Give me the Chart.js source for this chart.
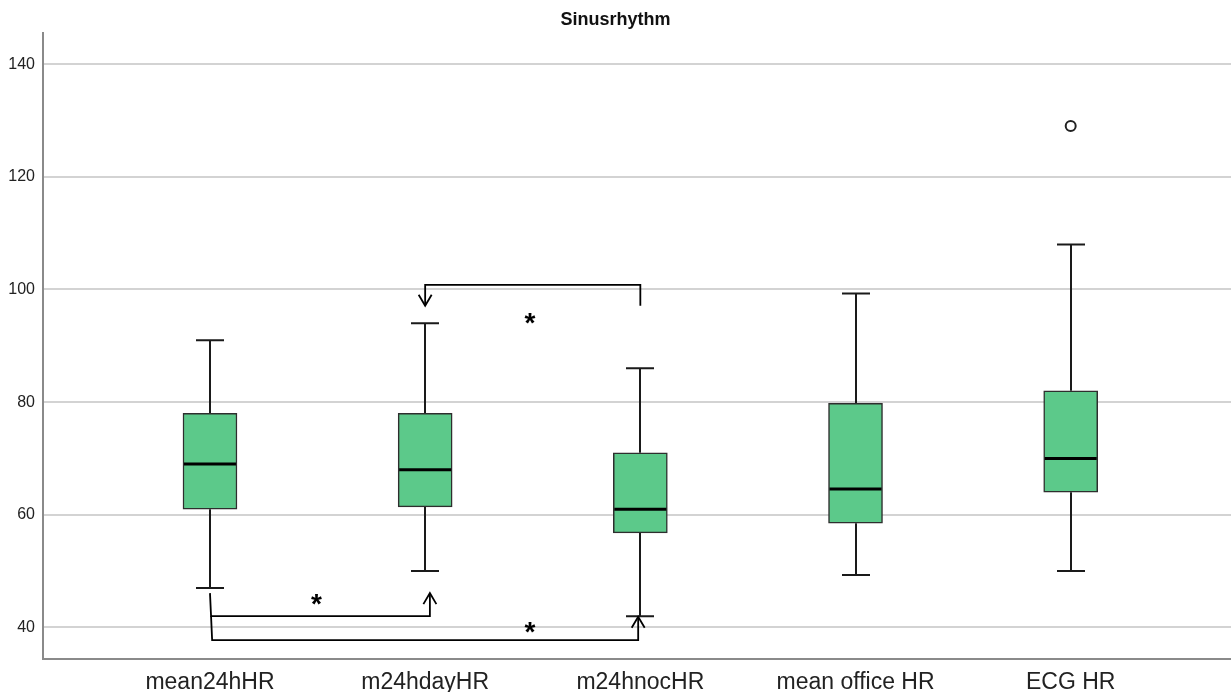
<!DOCTYPE html>
<html>
<head>
<meta charset="utf-8">
<title>Sinusrhythm</title>
<script src="https://cdn.jsdelivr.net/npm/chart.js@4.4.1/dist/chart.umd.min.js"></script>
<style>
  html, body { margin: 0; padding: 0; background: #ffffff; overflow: hidden; }
  canvas { display: block; }
</style>
</head>
<body>
<canvas id="chart" width="1231" height="692"></canvas>
<script>
// Heart-rate summary per measurement method (beats per minute)
const categories = ['mean24hHR', 'm24hdayHR', 'm24hnocHR', 'mean office HR', 'ECG HR'];
const whiskerLow  = [47, 50, 42, 49.3, 50];
const quartile1   = [61, 61.4, 56.8, 58.5, 64];
const medians     = [69, 68, 61, 64.6, 70];
const quartile3   = [78, 78, 71, 79.8, 82];
const whiskerHigh = [91, 94, 86, 99.3, 108];
const outlierCategory = [4];
const outlierValue    = [129];
const yTicks = [40, 60, 80, 100, 120, 140];

// Significance markers between groups: bracket path (category index, value) and star anchor
const brackets = [
  { path: [[0, 46.1], [0.005, 42.0], [1.022, 42.0], [1.022, 46.1]], arrow: 'up',   star: [0.495, 45.0] },
  { path: [[0.005, 42.0], [0.01, 37.75], [1.99, 37.75], [1.99, 41.9]], arrow: 'up', star: [1.487, 40.0] },
  { path: [[2, 97.1], [2, 100.8], [1.0, 100.8], [1.0, 97.1]], arrow: 'down',       star: [1.487, 94.8] }
];

const INK = '#1a1a1a';

const boxPlotPlugin = {
  id: 'boxWhiskers',
  beforeDatasetsDraw(chart) {
    const { ctx, scales: { x, y } } = chart;
    ctx.save();
    ctx.strokeStyle = INK;
    ctx.lineWidth = 2;
    ctx.lineCap = 'butt';
    categories.forEach((_, i) => {
      const cx = Math.round(x.getPixelForValue(i));
      const lo = y.getPixelForValue(whiskerLow[i]);
      const hi = y.getPixelForValue(whiskerHigh[i]);
      const b1 = y.getPixelForValue(quartile1[i]);
      const b3 = y.getPixelForValue(quartile3[i]);
      ctx.beginPath();
      ctx.moveTo(cx, b3); ctx.lineTo(cx, hi);
      ctx.moveTo(cx, b1); ctx.lineTo(cx, lo);
      ctx.moveTo(cx - 14, hi); ctx.lineTo(cx + 14, hi);
      ctx.moveTo(cx - 14, lo); ctx.lineTo(cx + 14, lo);
      ctx.stroke();
    });
    ctx.restore();
  },
  afterDatasetsDraw(chart) {
    const { ctx, scales: { x, y } } = chart;
    ctx.save();
    // medians
    ctx.strokeStyle = '#000';
    ctx.lineWidth = 3;
    categories.forEach((_, i) => {
      const cx = x.getPixelForValue(i);
      const m = y.getPixelForValue(medians[i]);
      ctx.beginPath();
      ctx.moveTo(cx - 26, m); ctx.lineTo(cx + 26, m);
      ctx.stroke();
    });

    // significance brackets with open arrow heads
    ctx.strokeStyle = '#000';
    ctx.lineWidth = 1.8;
    ctx.lineJoin = 'miter';
    brackets.forEach(b => {
      const pts = b.path.map(([cv, vv]) => [x.getPixelForValue(cv), y.getPixelForValue(vv)]);
      ctx.beginPath();
      pts.forEach(([px, py], k) => (k ? ctx.lineTo(px, py) : ctx.moveTo(px, py)));
      ctx.stroke();
      const [tx, ty] = pts[pts.length - 1];
      const dir = b.arrow === 'up' ? 1 : -1;
      ctx.beginPath();
      ctx.moveTo(tx - 6.5, ty + dir * 11);
      ctx.lineTo(tx, ty);
      ctx.lineTo(tx + 6.5, ty + dir * 11);
      ctx.stroke();

      // star label centred on its anchor
      const sx = x.getPixelForValue(b.star[0]);
      const sy = y.getPixelForValue(b.star[1]);
      ctx.font = 'bold 28px "Liberation Sans", Arial, sans-serif';
      ctx.fillStyle = '#000';
      ctx.textAlign = 'center';
      ctx.textBaseline = 'alphabetic';
      const mt = ctx.measureText('*');
      const off = (mt.actualBoundingBoxAscent - mt.actualBoundingBoxDescent) / 2;
      ctx.fillText('*', sx, sy + off);
    });
    ctx.restore();
  }
};

Chart.defaults.font.family = '"Liberation Sans", Arial, sans-serif';
Chart.defaults.color = '#222';

new Chart(document.getElementById('chart'), {
  type: 'bar',
  data: {
    datasets: [
      {
        label: 'IQR',
        data: categories.map((_, i) => ({ x: i, y: [quartile1[i], quartile3[i]] })),
        backgroundColor: '#5cc98a',
        borderColor: '#2e2e2e',
        borderWidth: 1.5,
        borderSkipped: false,
        barThickness: 54
      },
      {
        type: 'scatter',
        label: 'Outliers',
        data: outlierCategory.map((c, k) => ({ x: c, y: outlierValue[k] })),
        pointStyle: 'circle',
        pointRadius: 5,
        borderWidth: 2,
        borderColor: '#222',
        backgroundColor: '#ffffff'
      }
    ]
  },
  options: {
    responsive: false,
    animation: false,
    events: [],
    layout: { padding: 0, autoPadding: false },
    plugins: {
      legend: { display: false },
      tooltip: { enabled: false },
      title: {
        display: true,
        text: 'Sinusrhythm',
        color: '#111',
        font: { size: 18, weight: 'bold' },
        padding: { top: 9, bottom: 2 }
      }
    },
    scales: {
      x: {
        type: 'linear',
        min: -0.776,
        max: 4.745,
        offset: false,
        grid: { display: false, drawTicks: false, offset: false },
        border: { display: true, color: '#8a8a8a', width: 2 },
        afterBuildTicks: s => { s.ticks = categories.map((_, i) => ({ value: i })); },
        afterFit: s => { s.height = 33; s.paddingLeft = 0; s.paddingRight = 0; },
        ticks: {
          callback: v => categories[v],
          font: { size: 23 },
          color: '#222',
          padding: 10,
          maxRotation: 0,
          minRotation: 0,
          autoSkip: false
        }
      },
      y: {
        min: 34.4,
        max: 145.6,
        grid: { color: '#d3d3d3', lineWidth: 2, drawTicks: false },
        border: { display: true, color: '#8a8a8a', width: 2 },
        afterBuildTicks: s => { s.ticks = yTicks.map(v => ({ value: v })); },
        afterFit: s => { s.width = 43; s.paddingTop = 0; s.paddingBottom = 0; },
        ticks: {
          font: { size: 16 },
          color: '#222',
          padding: 8
        }
      }
    }
  },
  plugins: [boxPlotPlugin]
});
</script>
</body>
</html>
